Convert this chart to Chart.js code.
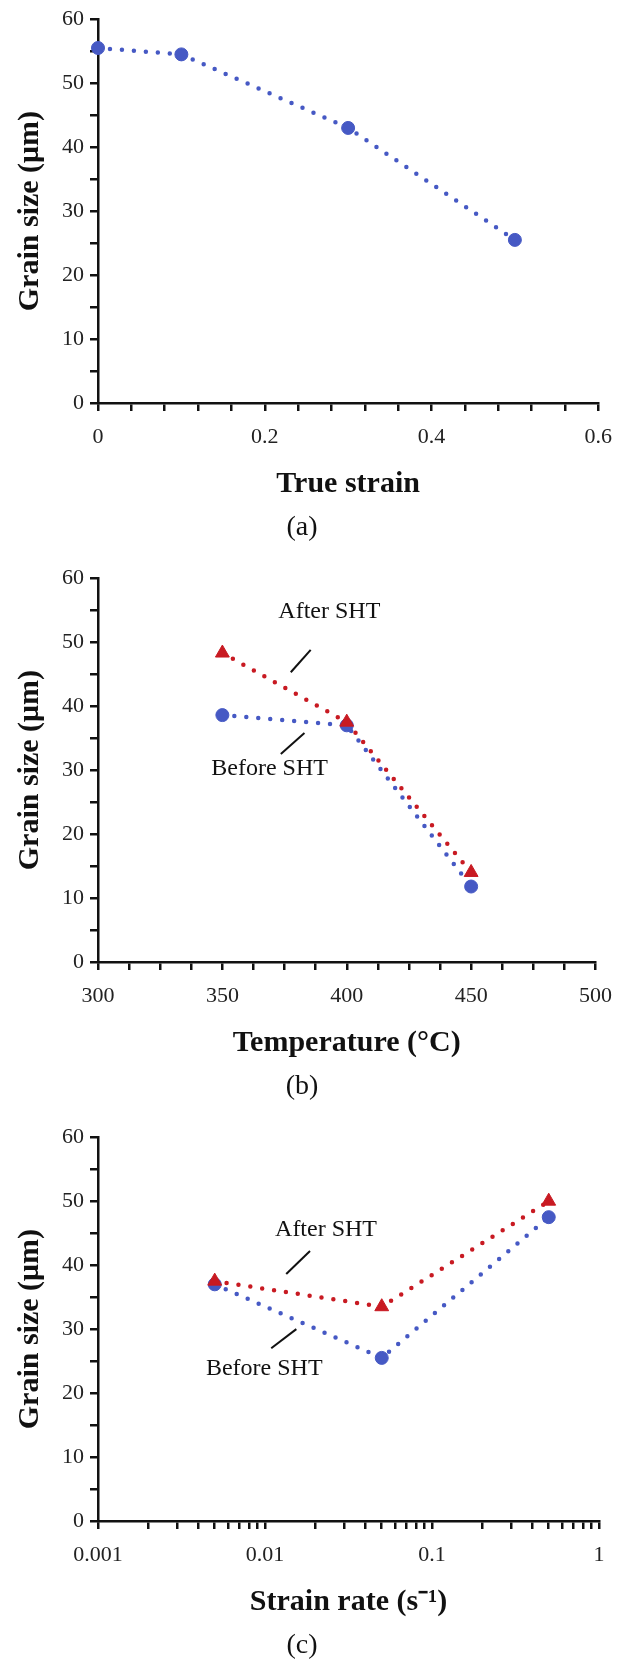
<!DOCTYPE html>
<html>
<head>
<meta charset="utf-8">
<style>
  html, body { margin: 0; padding: 0; background: #fff; }
  canvas { display: block; }
</style>
<script src="https://cdn.jsdelivr.net/npm/chart.js@4.4.1/dist/chart.umd.min.js"></script>
</head>
<body>
<canvas id="chartA" width="625" height="559"></canvas>
<canvas id="chartB" width="625" height="559"></canvas>
<canvas id="chartC" width="625" height="541"></canvas>
<script>
// (a) grain size vs true strain
const strain = [0, 0.1, 0.3, 0.5];
const strainGrain = [55.5, 54.5, 43, 25.5];

// (b) grain size vs temperature
const temps = [350, 400, 450];
const tempBefore = [38.6, 37, 11.8];
const tempAfter = [48.3, 37.5, 14];

// (c) grain size vs strain rate
const rates = [0.005, 0.05, 0.5];
const rateBefore = [37, 25.5, 47.5];
const rateAfter = [37.5, 33.5, 50];

// labelled ticks
const grainTicks = [0, 10, 20, 30, 40, 50, 60];
const strainTicks = [0, 0.2, 0.4, 0.6];
const tempTicks = [300, 350, 400, 450, 500];
const rateTicks = [0.001, 0.01, 0.1, 1];

const BLUE = '#4659c4';
const RED = '#c81a22';
const INK = '#111';
const SERIF = '"Liberation Serif", "Times New Roman", serif';
const PLOT = { left: 98, right: 599, top: 18, bottom: 403 };

function series(label, xs, ys, color, style, order) {
  return {
    label: label,
    data: xs.map((x, i) => ({ x: x, y: ys[i] })),
    order: order,
    borderColor: color,
    backgroundColor: color,
    borderWidth: 4.5,
    borderDash: [0, 12],
    borderCapStyle: 'round',
    tension: 0,
    clip: false,
    pointStyle: style,
    pointRadius: style === 'triangle' ? 8 : 6.5,
    pointBackgroundColor: color,
    pointBorderColor: color,
    pointBorderWidth: 1
  };
}

function onlyLabels(list) {
  return v => list.some(t => Math.abs(t - v) < 1e-9) ? String(v) : '';
}

const axisLine = { display: true, color: INK, width: 2.5 };
const tickMarks = {
  display: true, drawOnChartArea: false, drawTicks: true,
  tickLength: 8, tickWidth: 2.5, tickColor: INK, color: INK, lineWidth: 2.5
};
const tickFont = { family: SERIF, size: 22 };
const titleFont = { family: SERIF, size: 30, weight: 'bold', lineHeight: 1.2 };

// caption + "After/Before SHT" call-outs
const notesPlugin = {
  id: 'notes',
  afterDraw(chart, args, opts) {
    const { ctx, scales: { x, y } } = chart;
    ctx.save();
    ctx.fillStyle = INK;
    ctx.strokeStyle = INK;
    ctx.textAlign = 'center';
    ctx.textBaseline = 'middle';
    ctx.font = '24px ' + SERIF;
    (opts.notes || []).forEach(n => {
      ctx.fillText(n.text, x.getPixelForValue(n.at[0]), y.getPixelForValue(n.at[1]));
      ctx.lineWidth = 2;
      ctx.beginPath();
      ctx.moveTo(x.getPixelForValue(n.line[0]), y.getPixelForValue(n.line[1]));
      ctx.lineTo(x.getPixelForValue(n.line[2]), y.getPixelForValue(n.line[3]));
      ctx.stroke();
    });
    ctx.font = '28px ' + SERIF;
    ctx.fillText(opts.caption, 302, 528);
    ctx.restore();
  }
};

function drawPanel(id, xAxis, datasets, xTitle, caption, notes) {
  const canvas = document.getElementById(id);
  const H = canvas.height;
  const xScale = Object.assign({
    position: 'bottom',
    border: axisLine,
    grid: tickMarks,
    title: { display: true, text: xTitle, color: INK, font: titleFont, padding: { top: 0, bottom: H - 484 - 18 } },
    afterFit: s => { s.height = H - PLOT.bottom; }
  }, xAxis);
  xScale.ticks = Object.assign({ autoSkip: false, maxRotation: 0, padding: 13, color: '#222', font: tickFont }, xAxis.ticks);

  new Chart(canvas, {
    type: 'line',
    data: { datasets: datasets },
    options: {
      responsive: false,
      animation: false,
      events: [],
      layout: { padding: { left: 0, top: PLOT.top, right: 625 - PLOT.right, bottom: 0 } },
      plugins: {
        legend: { display: false },
        tooltip: { enabled: false },
        notes: { caption: caption, notes: notes }
      },
      scales: {
        x: xScale,
        y: {
          type: 'linear', min: 0, max: 60,
          border: axisLine,
          grid: tickMarks,
          ticks: { stepSize: 5, autoSkip: false, padding: 6, color: '#222', font: tickFont, callback: onlyLabels(grainTicks) },
          title: { display: true, text: 'Grain size (μm)', color: INK, font: titleFont, padding: { top: 12, bottom: 0 } },
          afterFit: s => { s.width = PLOT.left; }
        }
      }
    },
    plugins: [notesPlugin]
  });
}

drawPanel('chartA',
  { type: 'linear', min: 0, max: 0.6, ticks: { stepSize: 0.04, callback: onlyLabels(strainTicks) } },
  [series('Grain size', strain, strainGrain, BLUE, 'circle', 1)],
  'True strain', '(a)', []);

drawPanel('chartB',
  { type: 'linear', min: 300, max: 500, ticks: { stepSize: 12.5, callback: onlyLabels(tempTicks) } },
  [series('After SHT', temps, tempAfter, RED, 'triangle', 0),
   series('Before SHT', temps, tempBefore, BLUE, 'circle', 1)],
  'Temperature (°C)', '(b)',
  [{ text: 'After SHT', at: [393, 54.8], line: [385.5, 48.8, 377.5, 45.3] },
   { text: 'Before SHT', at: [369, 30.2], line: [383, 35.8, 373.5, 32.5] }]);

drawPanel('chartC',
  {
    type: 'logarithmic', min: 0.001, max: 1,
    ticks: { callback: onlyLabels(rateTicks) },
    // keep only 1..9 x 10^n minor ticks
    afterBuildTicks: s => {
      s.ticks = s.ticks.filter(t => {
        const m = t.value / Math.pow(10, Math.floor(Math.log10(t.value) + 1e-9));
        return Math.abs(m - Math.round(m)) < 1e-6;
      });
    }
  },
  [series('After SHT', rates, rateAfter, RED, 'triangle', 0),
   series('Before SHT', rates, rateBefore, BLUE, 'circle', 1)],
  'Strain rate (s⁻¹)', '(c)',
  [{ text: 'After SHT', at: [0.0232, 45.5], line: [0.0186, 42.2, 0.0134, 38.6] },
   { text: 'Before SHT', at: [0.0099, 23.8], line: [0.0154, 30.0, 0.0109, 27.0] }]);
</script>
</body>
</html>
